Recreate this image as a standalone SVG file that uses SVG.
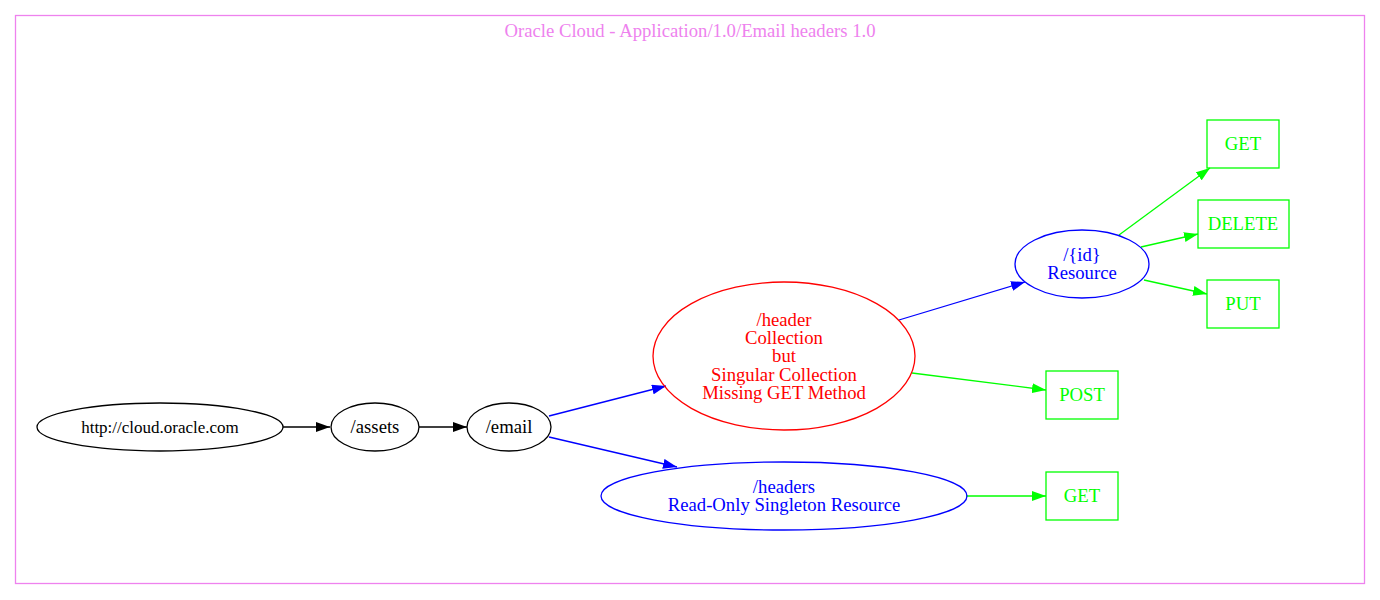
<svg xmlns="http://www.w3.org/2000/svg" width="1380" height="600" viewBox="0 0 1380 600">
<defs>
<marker id="ak" markerWidth="14" markerHeight="10" refX="14" refY="5" orient="auto" markerUnits="userSpaceOnUse"><path d="M0,0 L14,5 L0,10 Z" fill="#000"/></marker>
<marker id="ab" markerWidth="14" markerHeight="10" refX="14" refY="5" orient="auto" markerUnits="userSpaceOnUse"><path d="M0,0 L14,5 L0,10 Z" fill="#00f"/></marker>
<marker id="ag" markerWidth="14" markerHeight="10" refX="14" refY="5" orient="auto" markerUnits="userSpaceOnUse"><path d="M0,0 L14,5 L0,10 Z" fill="#0f0"/></marker>
</defs>
<style>
text{font-family:"Liberation Serif","Times New Roman",serif;font-size:18.7px;text-anchor:middle}
.k{fill:none;stroke:#000;stroke-width:1.3}
.b{fill:none;stroke:#00f;stroke-width:1.3}
.r{fill:none;stroke:#f00;stroke-width:1.3}
.g{fill:none;stroke:#0f0;stroke-width:1.3}
.tk{fill:#000}.tb{fill:#00f}.tr{fill:#f00}.tg{fill:#0f0}
</style>
<rect x="0" y="0" width="1380" height="600" fill="#fff"/>
<g id="cluster">
<rect x="15.5" y="15.5" width="1349" height="568" fill="none" stroke="#ee82ee" stroke-width="1.3"/>
<text x="690" y="37" fill="#ee82ee">Oracle Cloud - Application/1.0/Email headers 1.0</text>
</g>
<g id="edges">
<line class="k" x1="283" y1="427" x2="330" y2="427" marker-end="url(#ak)"/>
<line class="k" x1="419" y1="427" x2="467" y2="427" marker-end="url(#ak)"/>
<line class="b" x1="549" y1="416" x2="666" y2="386" marker-end="url(#ab)"/>
<line class="b" x1="549" y1="437" x2="677" y2="467" marker-end="url(#ab)"/>
<line class="b" x1="899" y1="320" x2="1025" y2="282" marker-end="url(#ab)"/>
<line class="g" x1="912" y1="373" x2="1046" y2="390" marker-end="url(#ag)"/>
<line class="g" x1="966" y1="496" x2="1046" y2="496" marker-end="url(#ag)"/>
<line class="g" x1="1119" y1="235" x2="1210" y2="168" marker-end="url(#ag)"/>
<line class="g" x1="1141" y1="247" x2="1198" y2="234" marker-end="url(#ag)"/>
<line class="g" x1="1144" y1="280" x2="1207" y2="294" marker-end="url(#ag)"/>
</g>
<g id="n_root"><ellipse class="k" cx="160" cy="427" rx="123" ry="24"/><text class="tk" x="160" y="433" style="font-size:17px">http://cloud.oracle.com</text></g>
<g id="n_assets"><ellipse class="k" cx="375" cy="427" rx="44" ry="24"/><text class="tk" x="375" y="433">/assets</text></g>
<g id="n_email"><ellipse class="k" cx="509" cy="427" rx="42" ry="24"/><text class="tk" x="509" y="433">/email</text></g>
<g id="n_header"><ellipse class="r" cx="784" cy="356" rx="131" ry="74"/>
<text class="tr" x="784" y="326">/header</text>
<text class="tr" x="784" y="344">Collection</text>
<text class="tr" x="784" y="362">but</text>
<text class="tr" x="784" y="381">Singular Collection</text>
<text class="tr" x="784" y="399">Missing GET Method</text></g>
<g id="n_headers"><ellipse class="b" cx="784" cy="496" rx="183" ry="34"/>
<text class="tb" x="784" y="493">/headers</text>
<text class="tb" x="784" y="511">Read-Only Singleton Resource</text></g>
<g id="n_id"><ellipse class="b" cx="1082" cy="264" rx="67" ry="34"/>
<text class="tb" x="1082" y="261">/{id}</text>
<text class="tb" x="1082" y="279">Resource</text></g>
<g id="n_get1"><rect class="g" x="1207" y="120" width="72" height="48"/><text class="tg" x="1243" y="150">GET</text></g>
<g id="n_delete"><rect class="g" x="1198" y="200" width="91" height="48"/><text class="tg" x="1243" y="230">DELETE</text></g>
<g id="n_put"><rect class="g" x="1207" y="280" width="72" height="48"/><text class="tg" x="1243" y="310">PUT</text></g>
<g id="n_post"><rect class="g" x="1046" y="371" width="72" height="48"/><text class="tg" x="1082" y="401">POST</text></g>
<g id="n_get2"><rect class="g" x="1046" y="472" width="72" height="48"/><text class="tg" x="1082" y="502">GET</text></g>
</svg>
